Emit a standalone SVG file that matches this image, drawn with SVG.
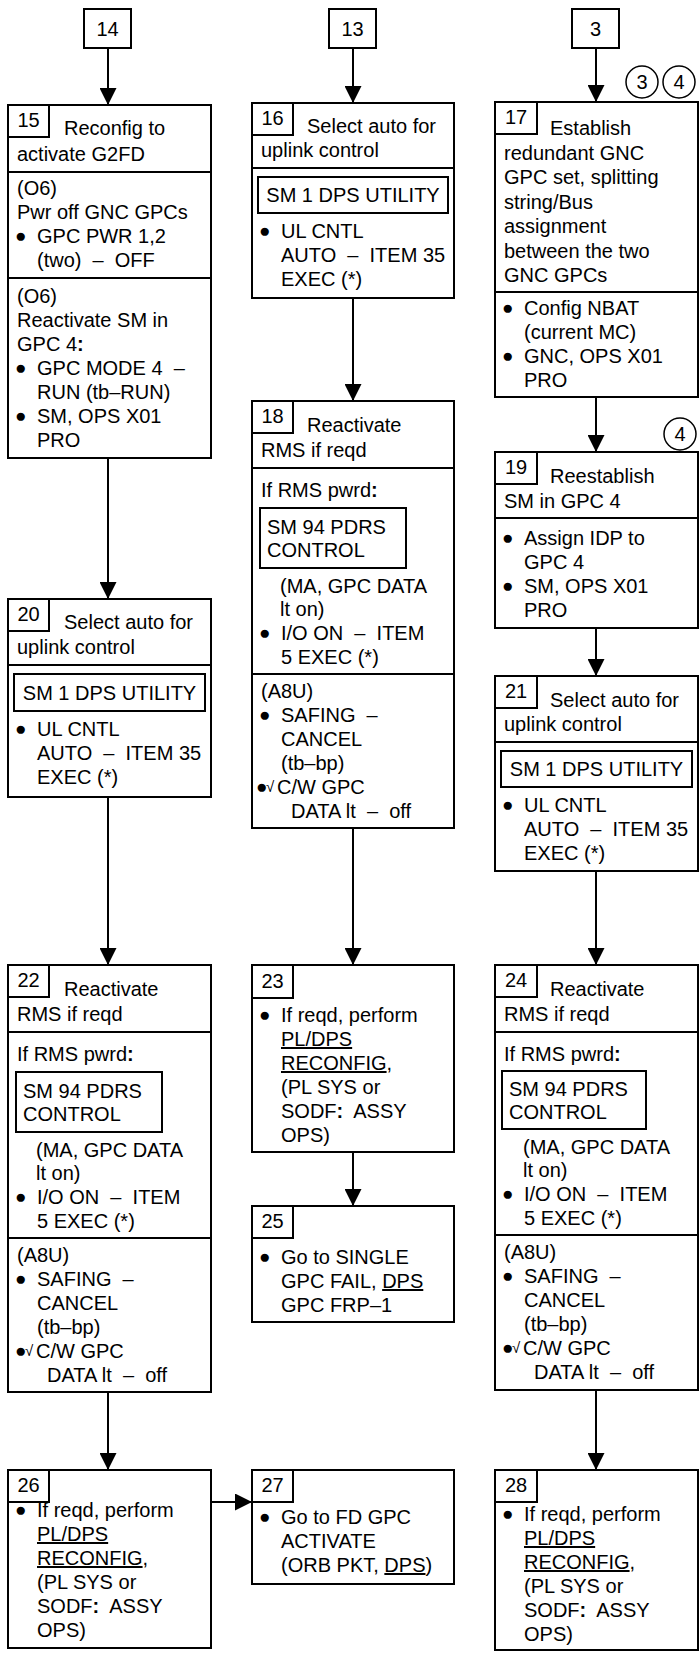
<svg xmlns="http://www.w3.org/2000/svg" width="699" height="1654" viewBox="0 0 699 1654">
<style>
text{font-family:"Liberation Sans",Arial,Helvetica,sans-serif;font-size:20px;fill:#000}
.b{fill:#fff;stroke:#000;stroke-width:2}
.s{fill:none;stroke:#000;stroke-width:2}
.d{stroke:#000;stroke-width:2}
.c{text-anchor:middle}
.u{text-decoration:underline}
.k{font-weight:bold}
.bl{font-size:19px}
.ck{font-size:15px}
.conn line{stroke:#000;stroke-width:2;marker-end:url(#ah)}
.ci{fill:#fff;stroke:#000;stroke-width:1.5}
</style>
<defs>
<marker id="ah" viewBox="0 0 17 17" refX="17" refY="8.5" markerWidth="17" markerHeight="17" markerUnits="userSpaceOnUse" orient="auto">
<path d="M0,0 L17,8.5 L0,17 z" fill="#000"/>
</marker>
</defs>

<g id="connectors" class="conn">
<line x1="108" y1="48" x2="108" y2="105"/>
<line x1="108" y1="458" x2="108" y2="599"/>
<line x1="108" y1="797" x2="108" y2="965"/>
<line x1="108" y1="1392" x2="108" y2="1470"/>
<line x1="211" y1="1502" x2="252" y2="1502"/>
<line x1="353" y1="48" x2="353" y2="103"/>
<line x1="353" y1="298" x2="353" y2="401"/>
<line x1="353" y1="828" x2="353" y2="965"/>
<line x1="353" y1="1152" x2="353" y2="1206"/>
<line x1="596" y1="48" x2="596" y2="102"/>
<line x1="596" y1="397" x2="596" y2="452"/>
<line x1="596" y1="628" x2="596" y2="676"/>
<line x1="596" y1="871" x2="596" y2="965"/>
<line x1="596" y1="1390" x2="596" y2="1470"/>
</g>

<g id="n14"><rect class="b" x="84" y="9" width="47" height="39"/><text class="c" x="107.5" y="36">14</text></g>
<g id="n13"><rect class="b" x="329" y="9" width="47" height="39"/><text class="c" x="352.5" y="36">13</text></g>
<g id="n3"><rect class="b" x="572" y="9" width="47" height="39"/><text class="c" x="595.5" y="36">3</text></g>

<g id="n15">
<rect class="s" x="8" y="105" width="203" height="353"/>
<rect class="s" x="8" y="105" width="41" height="32"/>
<text class="c" x="28.5" y="127">15</text>
<text x="64" y="135">Reconfig to</text>
<text x="17" y="161">activate G2FD</text>
<line class="d" x1="8" y1="172" x2="211" y2="172"/>
<text x="17" y="195">(O6)</text>
<text x="17" y="219">Pwr off GNC GPCs</text>
<text x="15" y="243"><tspan class="bl" dy="-1">●</tspan><tspan x="37" dy="1">GPC PWR 1,2</tspan></text>
<text x="37" y="267">(two)&#160; –&#160; OFF</text>
<line class="d" x1="8" y1="278" x2="211" y2="278"/>
<text x="17" y="303">(O6)</text>
<text x="17" y="327">Reactivate SM in</text>
<text x="17" y="351">GPC 4<tspan class="k">:</tspan></text>
<text x="15" y="375"><tspan class="bl" dy="-1">●</tspan><tspan x="37" dy="1">GPC MODE 4&#160; –</tspan></text>
<text x="37" y="399">RUN (tb–RUN)</text>
<text x="15" y="423"><tspan class="bl" dy="-1">●</tspan><tspan x="37" dy="1">SM, OPS X01</tspan></text>
<text x="37" y="447">PRO</text>
</g>

<g id="n20">
<rect class="s" x="8" y="599" width="203" height="198"/>
<rect class="s" x="8" y="599" width="41" height="32"/>
<text class="c" x="28.5" y="621">20</text>
<text x="64" y="629">Select auto for</text>
<text x="17" y="654">uplink control</text>
<line class="d" x1="8" y1="665" x2="211" y2="665"/>
<rect class="s" x="14" y="674" width="191" height="37"/>
<text class="c" x="109.5" y="700">SM 1 DPS UTILITY</text>
<text x="15" y="736"><tspan class="bl" dy="-1">●</tspan><tspan x="37" dy="1">UL CNTL</tspan></text>
<text x="37" y="760">AUTO&#160; –&#160; ITEM 35</text>
<text x="37" y="784">EXEC (*)</text>
</g>

<g id="n22">
<rect class="s" x="8" y="965" width="203" height="427"/>
<rect class="s" x="8" y="965" width="41" height="32"/>
<text class="c" x="28.5" y="987">22</text>
<text x="64" y="996">Reactivate</text>
<text x="17" y="1021">RMS if reqd</text>
<line class="d" x1="8" y1="1032" x2="211" y2="1032"/>
<text x="17" y="1061">If RMS pwrd<tspan class="k">:</tspan></text>
<rect class="s" x="16" y="1072" width="146" height="60"/>
<text x="23" y="1098">SM 94 PDRS</text>
<text x="23" y="1121">CONTROL</text>
<text x="36" y="1157">(MA, GPC DATA</text>
<text x="36" y="1180">lt on)</text>
<text x="15" y="1204"><tspan class="bl" dy="-1">●</tspan><tspan x="37" dy="1">I/O ON&#160; –&#160; ITEM</tspan></text>
<text x="37" y="1228">5 EXEC (*)</text>
<line class="d" x1="8" y1="1238" x2="211" y2="1238"/>
<text x="17" y="1262">(A8U)</text>
<text x="15" y="1286"><tspan class="bl" dy="-1">●</tspan><tspan x="37" dy="1">SAFING&#160; –</tspan></text>
<text x="37" y="1310">CANCEL</text>
<text x="37" y="1334">(tb–bp)</text>
<text x="15" y="1358"><tspan class="bl" dy="-1">●</tspan><tspan class="ck" x="25" dy="-1">√</tspan><tspan x="36" dy="2">C/W GPC</tspan></text>
<text x="47" y="1382">DATA lt&#160; –&#160; off</text>
</g>

<g id="n26">
<rect class="s" x="8" y="1470" width="203" height="178"/>
<rect class="s" x="8" y="1470" width="41" height="32"/>
<text class="c" x="28.5" y="1492">26</text>
<text x="15" y="1517"><tspan class="bl" dy="-1">●</tspan><tspan x="37" dy="1">If reqd, perform</tspan></text>
<text x="37" y="1541" class="u">PL/DPS</text>
<text x="37" y="1565"><tspan class="u">RECONFIG</tspan>,</text>
<text x="37" y="1589">(PL SYS or</text>
<text x="37" y="1613">SODF<tspan class="k">:</tspan>&#160; ASSY</text>
<text x="37" y="1637">OPS)</text>
</g>

<g id="n16">
<rect class="s" x="252" y="103" width="202" height="195"/>
<rect class="s" x="252" y="103" width="41" height="32"/>
<text class="c" x="272.5" y="125">16</text>
<text x="307" y="133">Select auto for</text>
<text x="261" y="157">uplink control</text>
<line class="d" x1="252" y1="168" x2="454" y2="168"/>
<rect class="s" x="258" y="177" width="190" height="36"/>
<text class="c" x="353" y="202">SM 1 DPS UTILITY</text>
<text x="259" y="238"><tspan class="bl" dy="-1">●</tspan><tspan x="281" dy="1">UL CNTL</tspan></text>
<text x="281" y="262">AUTO&#160; –&#160; ITEM 35</text>
<text x="281" y="286">EXEC (*)</text>
</g>

<g id="n18">
<rect class="s" x="252" y="401" width="202" height="427"/>
<rect class="s" x="252" y="401" width="41" height="32"/>
<text class="c" x="272.5" y="423">18</text>
<text x="307" y="432">Reactivate</text>
<text x="261" y="457">RMS if reqd</text>
<line class="d" x1="252" y1="468" x2="454" y2="468"/>
<text x="261" y="497">If RMS pwrd<tspan class="k">:</tspan></text>
<rect class="s" x="260" y="508" width="146" height="60"/>
<text x="267" y="534">SM 94 PDRS</text>
<text x="267" y="557">CONTROL</text>
<text x="280" y="593">(MA, GPC DATA</text>
<text x="280" y="616">lt on)</text>
<text x="259" y="640"><tspan class="bl" dy="-1">●</tspan><tspan x="281" dy="1">I/O ON&#160; –&#160; ITEM</tspan></text>
<text x="281" y="664">5 EXEC (*)</text>
<line class="d" x1="252" y1="674" x2="454" y2="674"/>
<text x="261" y="698">(A8U)</text>
<text x="259" y="722"><tspan class="bl" dy="-1">●</tspan><tspan x="281" dy="1">SAFING&#160; –</tspan></text>
<text x="281" y="746">CANCEL</text>
<text x="281" y="770">(tb–bp)</text>
<text x="256" y="794"><tspan class="bl" dy="-1">●</tspan><tspan class="ck" x="266" dy="-1">√</tspan><tspan x="277" dy="2">C/W GPC</tspan></text>
<text x="291" y="818">DATA lt&#160; –&#160; off</text>
</g>

<g id="n23">
<rect class="s" x="252" y="965" width="202" height="187"/>
<rect class="s" x="252" y="965" width="41" height="33"/>
<text class="c" x="272.5" y="988">23</text>
<text x="259" y="1022"><tspan class="bl" dy="-1">●</tspan><tspan x="281" dy="1">If reqd, perform</tspan></text>
<text x="281" y="1046" class="u">PL/DPS</text>
<text x="281" y="1070"><tspan class="u">RECONFIG</tspan>,</text>
<text x="281" y="1094">(PL SYS or</text>
<text x="281" y="1118">SODF<tspan class="k">:</tspan>&#160; ASSY</text>
<text x="281" y="1142">OPS)</text>
</g>

<g id="n25">
<rect class="s" x="252" y="1206" width="202" height="116"/>
<rect class="s" x="252" y="1206" width="41" height="32"/>
<text class="c" x="272.5" y="1228">25</text>
<text x="259" y="1264"><tspan class="bl" dy="-1">●</tspan><tspan x="281" dy="1">Go to SINGLE</tspan></text>
<text x="281" y="1288">GPC FAIL, <tspan class="u">DPS</tspan></text>
<text x="281" y="1312">GPC FRP–1</text>
</g>

<g id="n27">
<rect class="s" x="252" y="1470" width="202" height="114"/>
<rect class="s" x="252" y="1470" width="41" height="32"/>
<text class="c" x="272.5" y="1492">27</text>
<text x="259" y="1524"><tspan class="bl" dy="-1">●</tspan><tspan x="281" dy="1">Go to FD GPC</tspan></text>
<text x="281" y="1548">ACTIVATE</text>
<text x="281" y="1572">(ORB PKT, <tspan class="u">DPS</tspan>)</text>
</g>

<g id="n17">
<rect class="s" x="495" y="102" width="203" height="295"/>
<rect class="s" x="495" y="102" width="42" height="32"/>
<text class="c" x="516" y="124">17</text>
<text x="550" y="135">Establish</text>
<text x="504" y="159.5">redundant GNC</text>
<text x="504" y="184">GPC set, splitting</text>
<text x="504" y="208.5">string/Bus</text>
<text x="504" y="233">assignment</text>
<text x="504" y="257.5">between the two</text>
<text x="504" y="282">GNC GPCs</text>
<line class="d" x1="495" y1="292" x2="698" y2="292"/>
<text x="502" y="315"><tspan class="bl" dy="-1">●</tspan><tspan x="524" dy="1">Config NBAT</tspan></text>
<text x="524" y="339">(current MC)</text>
<text x="502" y="363"><tspan class="bl" dy="-1">●</tspan><tspan x="524" dy="1">GNC, OPS X01</tspan></text>
<text x="524" y="387">PRO</text>
</g>

<g id="n19">
<rect class="s" x="495" y="452" width="203" height="176"/>
<rect class="s" x="495" y="452" width="42" height="32"/>
<text class="c" x="516" y="474">19</text>
<text x="550" y="483">Reestablish</text>
<text x="504" y="508">SM in GPC 4</text>
<line class="d" x1="495" y1="518" x2="698" y2="518"/>
<text x="502" y="545"><tspan class="bl" dy="-1">●</tspan><tspan x="524" dy="1">Assign IDP to</tspan></text>
<text x="524" y="569">GPC 4</text>
<text x="502" y="593"><tspan class="bl" dy="-1">●</tspan><tspan x="524" dy="1">SM, OPS X01</tspan></text>
<text x="524" y="617">PRO</text>
</g>

<g id="n21">
<rect class="s" x="495" y="676" width="203" height="195"/>
<rect class="s" x="495" y="676" width="42" height="32"/>
<text class="c" x="516" y="698">21</text>
<text x="550" y="707">Select auto for</text>
<text x="504" y="731">uplink control</text>
<line class="d" x1="495" y1="742" x2="698" y2="742"/>
<rect class="s" x="501" y="751" width="191" height="36"/>
<text class="c" x="596.5" y="776">SM 1 DPS UTILITY</text>
<text x="502" y="812"><tspan class="bl" dy="-1">●</tspan><tspan x="524" dy="1">UL CNTL</tspan></text>
<text x="524" y="836">AUTO&#160; –&#160; ITEM 35</text>
<text x="524" y="860">EXEC (*)</text>
</g>

<g id="n24">
<rect class="s" x="495" y="965" width="203" height="425"/>
<rect class="s" x="495" y="965" width="42" height="32"/>
<text class="c" x="516" y="987">24</text>
<text x="550" y="996">Reactivate</text>
<text x="504" y="1021">RMS if reqd</text>
<line class="d" x1="495" y1="1032" x2="698" y2="1032"/>
<text x="504" y="1061">If RMS pwrd<tspan class="k">:</tspan></text>
<rect class="s" x="502" y="1071" width="144" height="58"/>
<text x="509" y="1096">SM 94 PDRS</text>
<text x="509" y="1119">CONTROL</text>
<text x="523" y="1154">(MA, GPC DATA</text>
<text x="523" y="1177">lt on)</text>
<text x="502" y="1201"><tspan class="bl" dy="-1">●</tspan><tspan x="524" dy="1">I/O ON&#160; –&#160; ITEM</tspan></text>
<text x="524" y="1225">5 EXEC (*)</text>
<line class="d" x1="495" y1="1235" x2="698" y2="1235"/>
<text x="504" y="1259">(A8U)</text>
<text x="502" y="1283"><tspan class="bl" dy="-1">●</tspan><tspan x="524" dy="1">SAFING&#160; –</tspan></text>
<text x="524" y="1307">CANCEL</text>
<text x="524" y="1331">(tb–bp)</text>
<text x="502" y="1355"><tspan class="bl" dy="-1">●</tspan><tspan class="ck" x="512" dy="-1">√</tspan><tspan x="523" dy="2">C/W GPC</tspan></text>
<text x="534" y="1379">DATA lt&#160; –&#160; off</text>
</g>

<g id="n28">
<rect class="s" x="495" y="1470" width="203" height="180"/>
<rect class="s" x="495" y="1470" width="42" height="32"/>
<text class="c" x="516" y="1492">28</text>
<text x="502" y="1521"><tspan class="bl" dy="-1">●</tspan><tspan x="524" dy="1">If reqd, perform</tspan></text>
<text x="524" y="1545" class="u">PL/DPS</text>
<text x="524" y="1569"><tspan class="u">RECONFIG</tspan>,</text>
<text x="524" y="1593">(PL SYS or</text>
<text x="524" y="1617">SODF<tspan class="k">:</tspan>&#160; ASSY</text>
<text x="524" y="1641">OPS)</text>
</g>

<g id="markers">
<circle class="ci" cx="642" cy="82" r="16"/><text class="c" x="642" y="89">3</text>
<circle class="ci" cx="679" cy="82" r="16"/><text class="c" x="679" y="89">4</text>
<circle class="ci" cx="680" cy="434" r="16"/><text class="c" x="680" y="441">4</text>
</g>
</svg>
